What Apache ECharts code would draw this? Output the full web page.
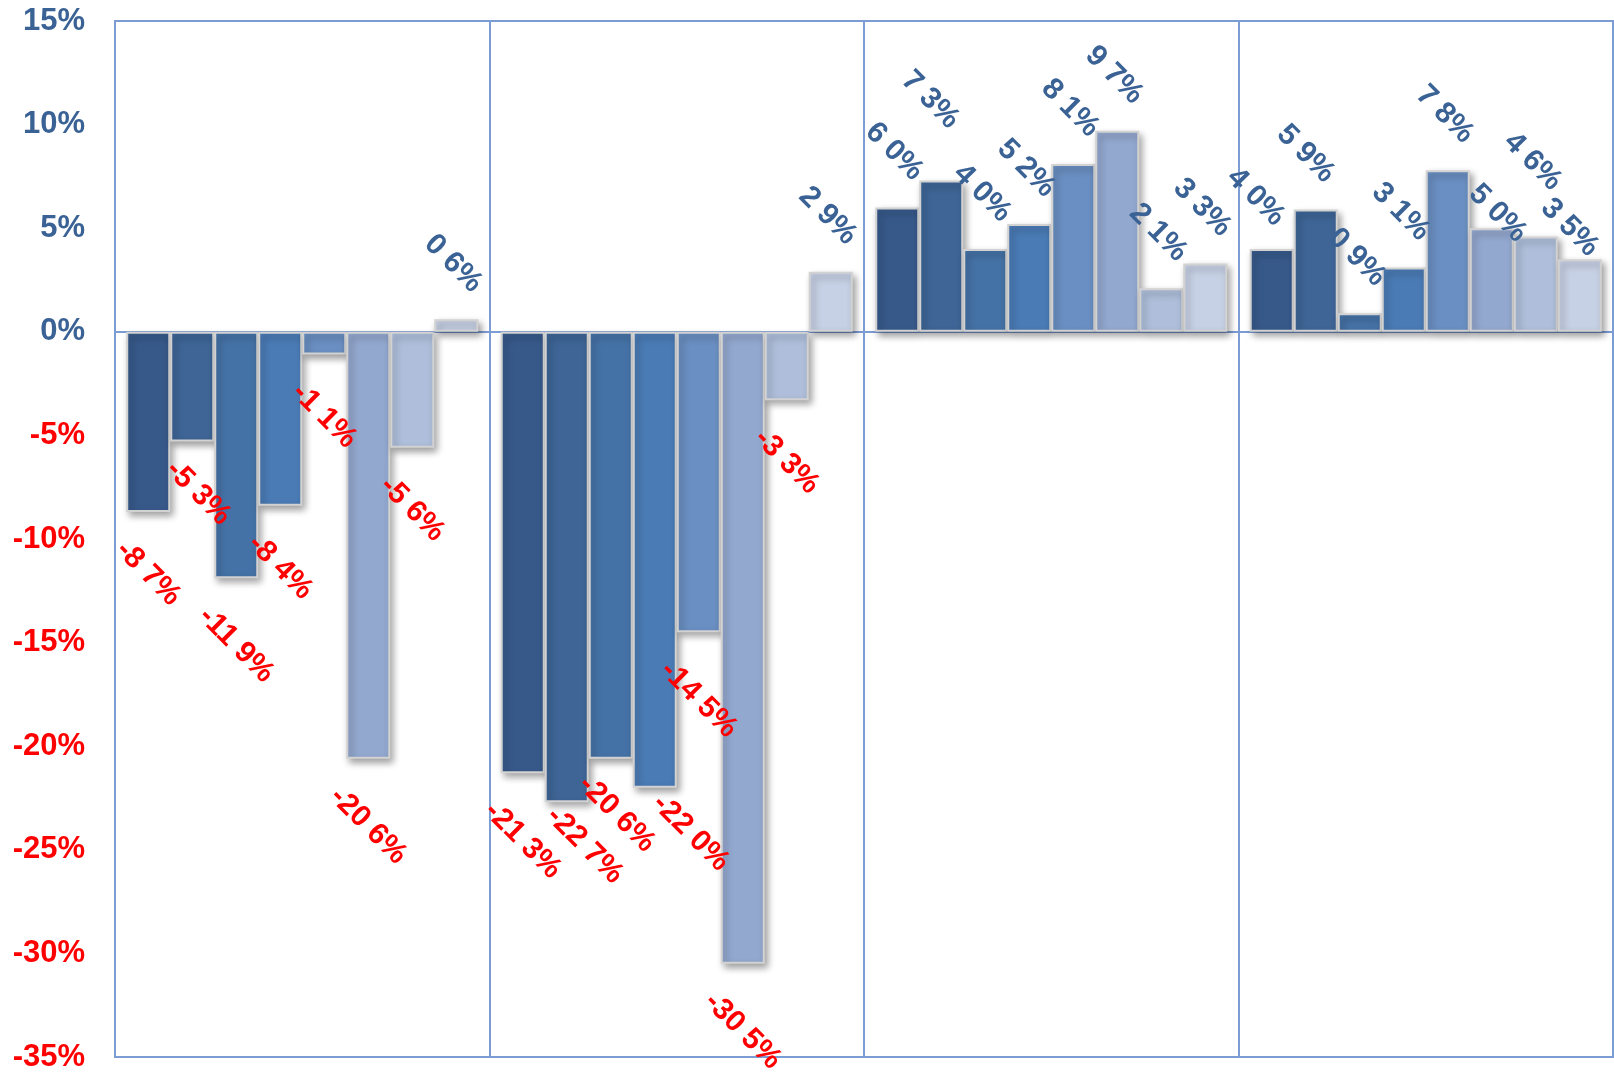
<!DOCTYPE html>
<html><head><meta charset="utf-8">
<script src="https://cdn.jsdelivr.net/npm/echarts@6/dist/echarts.min.js"></script>
<style>html,body{margin:0;padding:0;background:#fff}#c{width:1614px;height:1074px}</style>
</head><body><div id="c"></div>
<script>
// ---- data ----
const categories = ['1', '2', '3', '4'];
const s1 = [-8.7, -21.3, 6.0, 4.0];
const s2 = [-5.3, -22.7, 7.3, 5.9];
const s3 = [-11.9, -20.6, 4.0, 0.9];
const s4 = [-8.4, -22.0, 5.2, 3.1];
const s5 = [-1.1, -14.5, 8.1, 7.8];
const s6 = [-20.6, -30.5, 9.7, 5.0];
const s7 = [-5.6, -3.3, 2.1, 4.6];
const s8 = [0.6, 2.9, 3.3, 3.5];
const yTickMin = -35, yTickMax = 15, yTickStep = 5;

// ---- styling ----
const seriesValues = [s1, s2, s3, s4, s5, s6, s7, s8];
const colors = ['#37598a', '#3e6596', '#4572a6', '#4a7bb5', '#6a8fc2', '#93a8cf', '#afbfdb', '#c7d1e5'];
const BLUE = '#3a6295', RED = '#ff0000', FRAME = '#7c9cd4';
const FONT = '"Liberation Sans", Arial, sans-serif';
const LABEL_SIZE = 30;
// manual label nudges seen in the reference (screen pixels): "series-group": [dx, dy]
const labelNudges = {
  '1-2': [-8, -25],
  '0-3': [-13, 4], '1-3': [-7, 0], '5-3': [9, 41], '6-3': [0, -19], '7-3': [-7, 24],
  '1-1': [18, -24], '3-1': [36, -22], '2-1': [6, -12],
  '1-0': [6, -10]
};

const ctx = document.createElement('canvas').getContext('2d');
ctx.font = 'bold ' + LABEL_SIZE + 'px ' + FONT;
function fmt(v) { return v.toFixed(1).replace('.', ' ') + '%'; }
function halfDiag(text) { return (ctx.measureText(text).width + LABEL_SIZE) / (2 * Math.SQRT2); }
// label offset is applied in the rotated (-45deg) frame; convert a screen shift into it
function toLabelFrame(dx, dy) {
  const c = Math.SQRT1_2;
  return [(dx + dy) * c, (dy - dx) * c];
}

const series = seriesValues.map((vals, si) => ({
  type: 'bar',
  name: 'S' + (si + 1),
  barGap: '0%',
  barCategoryGap: '6%',
  itemStyle: {
    color: colors[si], borderColor: '#d2d2d2', borderWidth: 2,
    shadowColor: 'rgba(0,0,0,0.38)', shadowBlur: 7, shadowOffsetX: 3, shadowOffsetY: 4
  },
  label: {
    show: true, rotate: -45, align: 'center', verticalAlign: 'middle',
    fontFamily: FONT, fontWeight: 'bold', fontSize: LABEL_SIZE,
    formatter: p => fmt(p.value)
  },
  data: vals.map((v, gi) => {
    const t = fmt(v);
    const pos = v >= 0;
    const n = labelNudges[si + '-' + gi] || [0, 0];
    return {
      value: v,
      label: {
        position: pos ? 'top' : 'bottom',
        distance: (pos ? 21 : 23) + halfDiag(t),
        offset: toLabelFrame((pos ? -3 : 0) + n[0], n[1]),
        color: pos ? BLUE : RED
      }
    };
  })
}));

const chart = echarts.init(document.getElementById('c'), null, { renderer: 'canvas' });
chart.setOption({
  animation: false,
  backgroundColor: '#fff',
  grid: { left: 115, right: 1, top: 21, bottom: 17, show: true, borderColor: FRAME, borderWidth: 2, containLabel: false },
  xAxis: {
    type: 'category', data: categories,
    axisLine: { show: true, onZero: true, lineStyle: { color: FRAME, width: 2 } },
    axisTick: { show: false }, axisLabel: { show: false },
    splitLine: { show: true, interval: 0, lineStyle: { color: FRAME, width: 2 } }
  },
  yAxis: {
    type: 'value', min: yTickMin, max: yTickMax, interval: yTickStep,
    axisLine: { show: false }, axisTick: { show: false }, splitLine: { show: false },
    axisLabel: {
      margin: 30, fontFamily: FONT, fontWeight: 'bold', fontSize: 31,
      formatter: v => v + '%',
      color: v => (Number(v) < 0 ? RED : BLUE)
    }
  },
  series: series
});
</script></body></html>
